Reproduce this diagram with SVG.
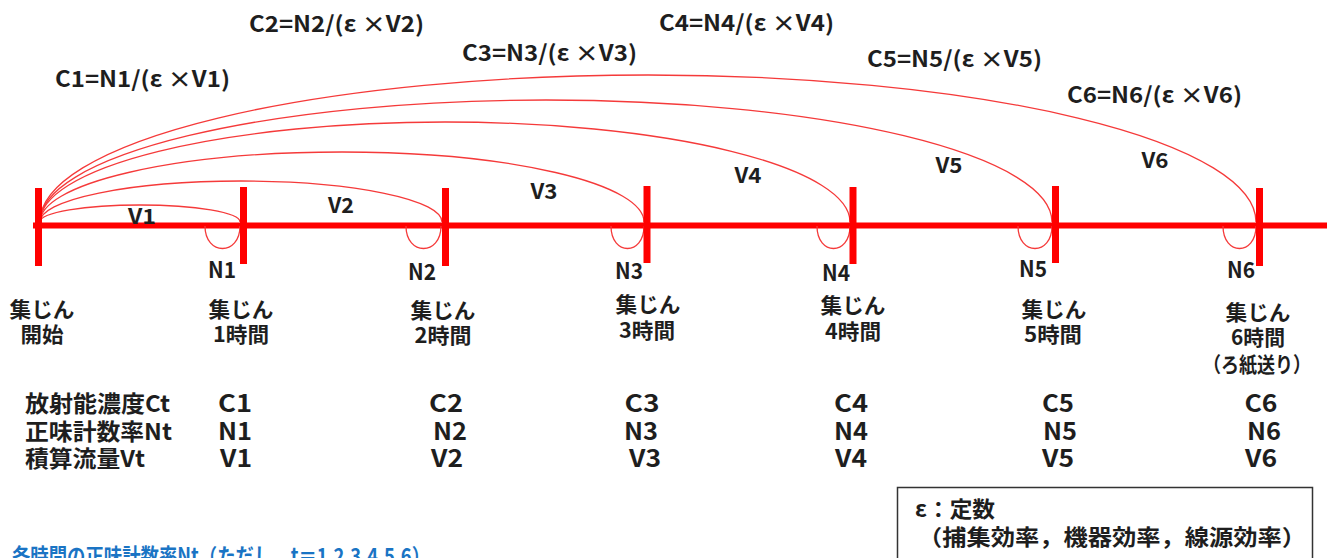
<svg xmlns="http://www.w3.org/2000/svg" width="1327" height="558" viewBox="0 0 1327 558">
  <style>
    text { font-family: "Noto Sans CJK JP", "Noto Sans", sans-serif; font-weight: bold; fill: #1e1e1e; }
    .f { font-size: 22px; }
    .v { font-size: 21px; text-anchor: middle; }
    .n { font-size: 22px; text-anchor: middle; }
    .lbl { font-size: 21px; text-anchor: middle; }
    .row { font-size: 23px; }
    .val { font-size: 24px; text-anchor: middle; }
    .note { font-size: 22px; font-weight: bold; }
    .blue { font-size: 22px; fill: #1a74c4; }
    .axis { stroke: #ff0000; stroke-width: 6; fill: none; }
    .tick { stroke: #ff0000; stroke-width: 7; fill: none; }
    .arc { stroke: #f53a3a; stroke-width: 1.3; fill: none; }
  </style>

  <rect width="1327" height="558" fill="#ffffff"/>

  <!-- time axis -->
  <line class="axis" x1="33" y1="225.5" x2="1327" y2="225.5"/>

  <!-- integrated-volume arcs from the start point, and count loops at each time point -->
  <g id="connectors">
    <path class="arc" d="M40,222 A100,17 0 0 1 240,222"/>
    <path class="arc" d="M40,222 A201,41 0 0 1 442,222"/>
    <path class="arc" d="M40,222 A302,70 0 0 1 644,222"/>
    <path class="arc" d="M40,222 A405,100 0 0 1 850,222"/>
    <path class="arc" d="M40,222 A506,122 0 0 1 1052,222"/>
    <path class="arc" d="M40,222 A608,147 0 0 1 1256,222"/>

    <path class="arc" d="M205,226 C205,256 240,256 240,226"/>
    <path class="arc" d="M406,226 C406,256 441,256 441,226"/>
    <path class="arc" d="M611,226 C611,256 644,256 644,226"/>
    <path class="arc" d="M817,226 C817,256 850,256 850,226"/>
    <path class="arc" d="M1018,226 C1018,256 1052,256 1052,226"/>
    <path class="arc" d="M1223,226 C1223,256 1256,256 1256,226"/>
  </g>

  <!-- formulas -->
  <g id="formulas">
    <text class="f" x="55" y="87" textLength="175" lengthAdjust="spacingAndGlyphs">C1=N1/(ε ×V1)</text>
    <text class="f" x="249" y="32" textLength="175" lengthAdjust="spacingAndGlyphs">C2=N2/(ε ×V2)</text>
    <text class="f" x="462" y="61" textLength="175" lengthAdjust="spacingAndGlyphs">C3=N3/(ε ×V3)</text>
    <text class="f" x="659" y="31" textLength="175" lengthAdjust="spacingAndGlyphs">C4=N4/(ε ×V4)</text>
    <text class="f" x="867" y="67" textLength="175" lengthAdjust="spacingAndGlyphs">C5=N5/(ε ×V5)</text>
    <text class="f" x="1067" y="103" textLength="175" lengthAdjust="spacingAndGlyphs">C6=N6/(ε ×V6)</text>
  </g>

  <!-- volume labels -->
  <g id="volumes">
    <text class="v" x="142" y="224" textLength="28" lengthAdjust="spacingAndGlyphs">V1</text>
    <text class="v" x="341" y="213" textLength="26" lengthAdjust="spacingAndGlyphs">V2</text>
    <text class="v" x="544" y="199" textLength="27" lengthAdjust="spacingAndGlyphs">V3</text>
    <text class="v" x="748" y="183" textLength="27" lengthAdjust="spacingAndGlyphs">V4</text>
    <text class="v" x="949" y="173" textLength="27" lengthAdjust="spacingAndGlyphs">V5</text>
    <text class="v" x="1155" y="168" textLength="27" lengthAdjust="spacingAndGlyphs">V6</text>
  </g>

  <!-- row headings -->
  <g id="rows">
    <text class="row" x="25" y="412" textLength="145" lengthAdjust="spacingAndGlyphs">放射能濃度Ct</text>
    <text class="row" x="25" y="440" textLength="147" lengthAdjust="spacingAndGlyphs">正味計数率Nt</text>
    <text class="row" x="25" y="467" textLength="120" lengthAdjust="spacingAndGlyphs">積算流量Vt</text>
  </g>

  <!-- start of collection -->
  <g id="t0">
    <line class="tick" x1="38.5" y1="188" x2="38.5" y2="266"/>
    <text class="lbl" x="42" y="317" textLength="65" lengthAdjust="spacingAndGlyphs">集じん</text>
    <text class="lbl" x="42" y="342" textLength="43" lengthAdjust="spacingAndGlyphs">開始</text>
  </g>

  <g id="t1">
    <line class="tick" x1="243.5" y1="187" x2="243.5" y2="264"/>
    <text class="n" x="222" y="278" textLength="28" lengthAdjust="spacingAndGlyphs">N1</text>
    <text class="lbl" x="241" y="317" textLength="65" lengthAdjust="spacingAndGlyphs">集じん</text>
    <text class="lbl" x="241" y="342" textLength="56" lengthAdjust="spacingAndGlyphs">1時間</text>
    <text class="val" x="235" y="412" textLength="34" lengthAdjust="spacingAndGlyphs">C1</text>
    <text class="val" x="235" y="440" textLength="34" lengthAdjust="spacingAndGlyphs">N1</text>
    <text class="val" x="236" y="467" textLength="32" lengthAdjust="spacingAndGlyphs">V1</text>
  </g>

  <g id="t2">
    <line class="tick" x1="445.5" y1="188" x2="445.5" y2="266"/>
    <text class="n" x="422" y="280" textLength="28" lengthAdjust="spacingAndGlyphs">N2</text>
    <text class="lbl" x="443" y="318" textLength="65" lengthAdjust="spacingAndGlyphs">集じん</text>
    <text class="lbl" x="443" y="343" textLength="57" lengthAdjust="spacingAndGlyphs">2時間</text>
    <text class="val" x="446" y="412" textLength="34" lengthAdjust="spacingAndGlyphs">C2</text>
    <text class="val" x="450" y="440" textLength="34" lengthAdjust="spacingAndGlyphs">N2</text>
    <text class="val" x="447" y="467" textLength="32" lengthAdjust="spacingAndGlyphs">V2</text>
  </g>

  <g id="t3">
    <line class="tick" x1="647" y1="186" x2="647" y2="263"/>
    <text class="n" x="629" y="279" textLength="28" lengthAdjust="spacingAndGlyphs">N3</text>
    <text class="lbl" x="648" y="312" textLength="65" lengthAdjust="spacingAndGlyphs">集じん</text>
    <text class="lbl" x="647" y="338" textLength="56" lengthAdjust="spacingAndGlyphs">3時間</text>
    <text class="val" x="642" y="412" textLength="35" lengthAdjust="spacingAndGlyphs">C3</text>
    <text class="val" x="641" y="440" textLength="34" lengthAdjust="spacingAndGlyphs">N3</text>
    <text class="val" x="645" y="467" textLength="32" lengthAdjust="spacingAndGlyphs">V3</text>
  </g>

  <g id="t4">
    <line class="tick" x1="853" y1="187" x2="853" y2="264"/>
    <text class="n" x="836" y="281" textLength="28" lengthAdjust="spacingAndGlyphs">N4</text>
    <text class="lbl" x="853" y="313" textLength="65" lengthAdjust="spacingAndGlyphs">集じん</text>
    <text class="lbl" x="853" y="339" textLength="56" lengthAdjust="spacingAndGlyphs">4時間</text>
    <text class="val" x="851" y="412" textLength="34" lengthAdjust="spacingAndGlyphs">C4</text>
    <text class="val" x="851" y="440" textLength="34" lengthAdjust="spacingAndGlyphs">N4</text>
    <text class="val" x="851" y="467" textLength="32" lengthAdjust="spacingAndGlyphs">V4</text>
  </g>

  <g id="t5">
    <line class="tick" x1="1055.5" y1="186" x2="1055.5" y2="263"/>
    <text class="n" x="1033" y="277" textLength="28" lengthAdjust="spacingAndGlyphs">N5</text>
    <text class="lbl" x="1054" y="317" textLength="65" lengthAdjust="spacingAndGlyphs">集じん</text>
    <text class="lbl" x="1053" y="342" textLength="58" lengthAdjust="spacingAndGlyphs">5時間</text>
    <text class="val" x="1058" y="412" textLength="32" lengthAdjust="spacingAndGlyphs">C5</text>
    <text class="val" x="1060" y="440" textLength="34" lengthAdjust="spacingAndGlyphs">N5</text>
    <text class="val" x="1058" y="467" textLength="32" lengthAdjust="spacingAndGlyphs">V5</text>
  </g>

  <!-- end of collection, filter advanced -->
  <g id="t6">
    <line class="tick" x1="1259.5" y1="188" x2="1259.5" y2="266"/>
    <text class="n" x="1241" y="278" textLength="28" lengthAdjust="spacingAndGlyphs">N6</text>
    <text class="lbl" x="1258" y="320" textLength="65" lengthAdjust="spacingAndGlyphs">集じん</text>
    <text class="lbl" x="1258" y="345" textLength="54" lengthAdjust="spacingAndGlyphs">6時間</text>
    <text class="lbl" x="1257" y="372" textLength="108" lengthAdjust="spacingAndGlyphs">（ろ紙送り）</text>
    <text class="val" x="1261" y="412" textLength="33" lengthAdjust="spacingAndGlyphs">C6</text>
    <text class="val" x="1264" y="440" textLength="34" lengthAdjust="spacingAndGlyphs">N6</text>
    <text class="val" x="1261" y="467" textLength="32" lengthAdjust="spacingAndGlyphs">V6</text>
  </g>

  <!-- efficiency constant legend -->
  <g id="legend">
    <rect x="897.5" y="487.5" width="415" height="90" fill="#ffffff" stroke="#333333" stroke-width="1.5"/>
    <text class="note" x="915" y="517" textLength="80" lengthAdjust="spacingAndGlyphs">ε：定数</text>
    <text class="note" x="918" y="545" textLength="388" lengthAdjust="spacingAndGlyphs">（捕集効率，機器効率，線源効率）</text>
  </g>

  <g id="caption">
    <text class="blue" x="12" y="564" textLength="418" lengthAdjust="spacingAndGlyphs">各時間の正味計数率Nt（ただし、t＝1.2.3.4.5.6）</text>
  </g>
</svg>
